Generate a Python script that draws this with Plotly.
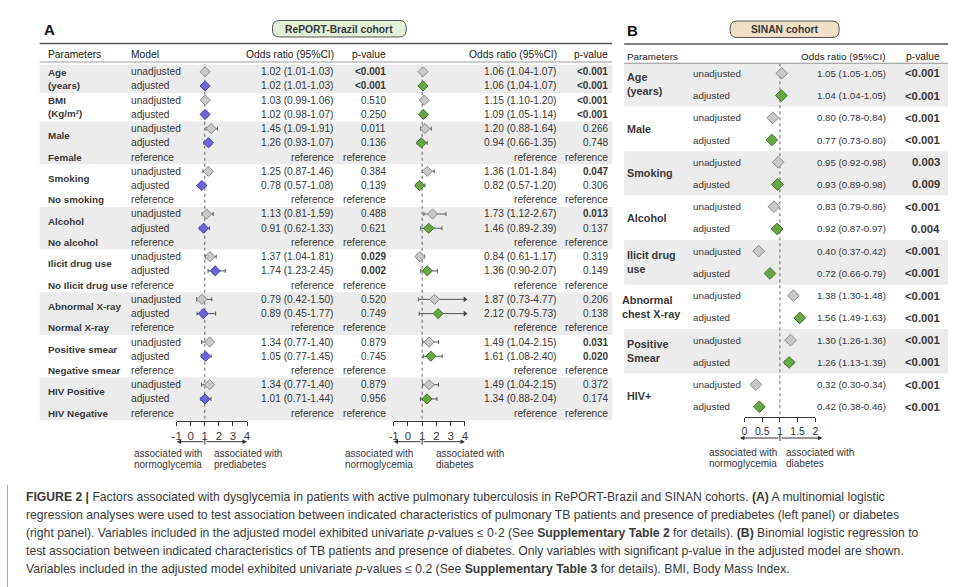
import plotly.graph_objects as go

W, H = 960, 587
def X(px): return px / W
def Y(py): return 1 - py / H

# ---------------- data ----------------
params_A = ["Age<br>(years)", "BMI<br>(Kg/m²)", "Male", "Smoking", "Alcohol",
            "Ilicit drug use", "Abnormal X-ray", "Positive smear", "HIV Positive"]
refs_A = ["", "", "Female", "No smoking", "No alcohol", "No Ilicit drug use",
          "Normal X-ray", "Negative smear", "HIV Negative"]

# RePORT-Brazil, prediabetes (left)
pre_or_u = [1.02, 1.03, 1.45, 1.25, 1.13, 1.37, 0.79, 1.34, 1.34]
pre_lo_u = [1.01, 0.99, 1.09, 0.87, 0.81, 1.04, 0.42, 0.77, 0.77]
pre_hi_u = [1.03, 1.06, 1.91, 1.46, 1.59, 1.81, 1.50, 1.40, 1.40]
pre_p_u = ["<0.001", "0.510", "0.011", "0.384", "0.488", "0.029", "0.520", "0.879", "0.879"]
pre_b_u = [1, 0, 0, 0, 0, 1, 0, 0, 0]
pre_or_a = [1.02, 1.02, 1.26, 0.78, 0.91, 1.74, 0.89, 1.05, 1.01]
pre_lo_a = [1.01, 0.98, 0.93, 0.57, 0.62, 1.23, 0.45, 0.77, 0.71]
pre_hi_a = [1.03, 1.07, 1.07, 1.08, 1.33, 2.45, 1.77, 1.45, 1.44]
pre_p_a = ["<0.001", "0.250", "0.136", "0.139", "0.621", "0.002", "0.749", "0.745", "0.956"]
pre_b_a = [1, 0, 0, 0, 0, 1, 0, 0, 0]

# RePORT-Brazil, diabetes (right)
dia_or_u = [1.06, 1.15, 1.20, 1.36, 1.73, 0.84, 1.87, 1.49, 1.49]
dia_lo_u = [1.04, 1.10, 0.88, 1.01, 1.12, 0.61, 0.73, 1.04, 1.04]
dia_hi_u = [1.07, 1.20, 1.64, 1.84, 2.67, 1.17, 4.77, 2.15, 2.15]
dia_p_u = ["<0.001", "<0.001", "0.266", "0.047", "0.013", "0.319", "0.206", "0.031", "0.372"]
dia_b_u = [1, 1, 0, 1, 1, 0, 0, 1, 0]
dia_or_a = [1.06, 1.09, 0.94, 0.82, 1.46, 1.36, 2.12, 1.61, 1.34]
dia_lo_a = [1.04, 1.05, 0.66, 0.57, 0.89, 0.90, 0.79, 1.08, 0.88]
dia_hi_a = [1.07, 1.14, 1.35, 1.20, 2.39, 2.07, 5.73, 2.40, 2.04]
dia_p_a = ["<0.001", "<0.001", "0.748", "0.306", "0.137", "0.149", "0.138", "0.020", "0.174"]
dia_b_a = [1, 1, 0, 0, 0, 0, 0, 1, 0]

# SINAN cohort, diabetes
params_B = ["Age<br>(years)", "Male", "Smoking", "Alcohol", "Ilicit drug<br>use",
            "Abnormal<br>chest X-ray", "Positive<br>Smear", "HIV+"]
sin_or_u = [1.05, 0.80, 0.95, 0.83, 0.40, 1.38, 1.30, 0.32]
sin_lo_u = [1.05, 0.78, 0.92, 0.79, 0.37, 1.30, 1.26, 0.30]
sin_hi_u = [1.05, 0.84, 0.98, 0.86, 0.42, 1.48, 1.36, 0.34]
sin_p_u = ["<0.001", "<0.001", "0.003", "<0.001", "<0.001", "<0.001", "<0.001", "<0.001"]
sin_or_a = [1.04, 0.77, 0.93, 0.92, 0.72, 1.56, 1.26, 0.42]
sin_lo_a = [1.04, 0.73, 0.89, 0.87, 0.66, 1.49, 1.13, 0.38]
sin_hi_a = [1.05, 0.80, 0.98, 0.97, 0.79, 1.63, 1.39, 0.46]
sin_p_a = ["<0.001", "<0.001", "0.009", "0.004", "<0.001", "<0.001", "<0.001", "<0.001"]

ticks_A = [-1, 0, 1, 2, 3, 4]
ticklabels_A = ["-1", "0", "1", "2", "3", "4"]
ticks_B = [0, 0.5, 1, 1.5, 2]
ticklabels_B = ["0", "0.5", "1", "1.5", "2"]

# ---------------- style ----------------
FONT = "Liberation Sans, Arial, sans-serif"
TXT = "#383838"
BAND = "#ececec"
GRAY_FILL, GRAY_LINE = "#c9c9c9", "#8c8c8c"
BLUE_FILL, BLUE_LINE = "#6b63d6", "#4c44b3"
GREEN_FILL, GREEN_LINE = "#68a544", "#3f7a28"

fig = go.Figure()
ann = []
shapes = []

def text(x, y, s, xanchor="left", size=10.2, yref="paper", xref="paper",
         color=TXT, yanchor="middle", align="left"):
    ann.append(dict(x=x, y=y, xref=xref, yref=yref, text=s, showarrow=False,
                    xanchor=xanchor, yanchor=yanchor, align=align, borderpad=0,
                    font=dict(family=FONT, size=size, color=color)))

def fmt(o, l, h):
    return f"{o:.2f} ({l:.2f}-{h:.2f})"

def pv(p, b):
    return f"<b>{p}</b>" if b else p

# ---------------- panel A layout of rows ----------------
starts_A = []
r = 0
for ref in refs_A:
    starts_A.append(r)
    r += 3 if ref else 2
nrows_A = r

for g, s0 in enumerate(starts_A):
    n = 3 if refs_A[g] else 2
    if g % 2 == 0:
        shapes.append(dict(type="rect", xref="paper", yref="y", x0=X(35), x1=X(613),
                           y0=s0 - 0.5, y1=s0 + n - 0.5, fillcolor=BAND,
                           line=dict(width=0), layer="below"))

text(X(38), Y(29), "<b>A</b>", size=15, color="#111")
shapes.append(dict(type="line", xref="paper", yref="paper", x0=X(35), x1=X(613),
                   y0=Y(43.5), y1=Y(43.5), line=dict(color="#555", width=1.5)))
shapes.append(dict(type="line", xref="paper", yref="paper", x0=X(35), x1=X(613),
                   y0=Y(62), y1=Y(62), line=dict(color="#9a9a9a", width=1)))
hy = Y(54.5)
text(X(42.5), hy, "Parameters", color="#222", size=10.3)
text(X(126.5), hy, "Model", color="#222", size=10.3)
text(X(333.5), hy, "Odds ratio (95%CI)", xanchor="right", color="#222", size=10.3)
text(X(385.5), hy, "p-value", xanchor="right", color="#222", size=10.3)
text(X(558.5), hy, "Odds ratio (95%CI)", xanchor="right", color="#222", size=10.3)
text(X(609.5), hy, "p-value", xanchor="right", color="#222", size=10.3)

PSZ = 9.8
for g, s0 in enumerate(starts_A):
    text(X(42.5), s0 + 0.5, "<b>" + params_A[g] + "</b>", yref="y", size=PSZ)
    text(X(126.5), s0, "unadjusted", yref="y")
    text(X(126.5), s0 + 1, "adjusted", yref="y")
    text(X(333.5), s0, fmt(pre_or_u[g], pre_lo_u[g], pre_hi_u[g]), "right", yref="y")
    text(X(333.5), s0 + 1, fmt(pre_or_a[g], pre_lo_a[g], pre_hi_a[g]), "right", yref="y")
    text(X(385.5), s0, pv(pre_p_u[g], pre_b_u[g]), "right", yref="y", size=10)
    text(X(385.5), s0 + 1, pv(pre_p_a[g], pre_b_a[g]), "right", yref="y", size=10)
    text(X(558.5), s0, fmt(dia_or_u[g], dia_lo_u[g], dia_hi_u[g]), "right", yref="y")
    text(X(558.5), s0 + 1, fmt(dia_or_a[g], dia_lo_a[g], dia_hi_a[g]), "right", yref="y")
    text(X(609.5), s0, pv(dia_p_u[g], dia_b_u[g]), "right", yref="y", size=10)
    text(X(609.5), s0 + 1, pv(dia_p_a[g], dia_b_a[g]), "right", yref="y", size=10)
    if refs_A[g]:
        text(X(42.5), s0 + 2, "<b>" + refs_A[g] + "</b>", yref="y", size=PSZ)
        text(X(126.5), s0 + 2, "reference", yref="y")
        for xx in (333.5, 385.5, 558.5, 609.5):
            text(X(xx), s0 + 2, "reference", "right", yref="y")

rows_u = [s for s in starts_A]
rows_a = [s + 1 for s in starts_A]

def forest(xaxis, yaxis, rows, o, lo, hi, fill, line, size, xmax):
    hi_c = [min(h, xmax) for h in hi]
    fig.add_trace(go.Scatter(
        x=o, y=rows, xaxis=xaxis, yaxis=yaxis, mode="markers",
        marker=dict(symbol="diamond", size=size, color=fill, line=dict(color=line, width=1)),
        error_x=dict(type="data", symmetric=False,
                     array=[max(0, h - v) for h, v in zip(hi_c, o)],
                     arrayminus=[max(0, v - l) for v, l in zip(o, lo)],
                     color="#555", thickness=1, width=2),
        showlegend=False, hoverinfo="skip", cliponaxis=False))
    clipped = [(xmax, rr) for h, rr in zip(hi, rows) if h > xmax]
    if clipped:
        fig.add_trace(go.Scatter(
            x=[c[0] for c in clipped], y=[c[1] for c in clipped], xaxis=xaxis, yaxis=yaxis,
            mode="markers", marker=dict(symbol="triangle-right", size=5, color="#444"),
            showlegend=False, hoverinfo="skip", cliponaxis=False))

forest("x", "y", rows_u, pre_or_u, pre_lo_u, pre_hi_u, GRAY_FILL, GRAY_LINE, 7.8, 4)
forest("x", "y", rows_a, pre_or_a, pre_lo_a, pre_hi_a, BLUE_FILL, BLUE_LINE, 7.8, 4)
forest("x2", "y2", rows_u, dia_or_u, dia_lo_u, dia_hi_u, GRAY_FILL, GRAY_LINE, 7.8, 4)
forest("x2", "y2", rows_a, dia_or_a, dia_lo_a, dia_hi_a, GREEN_FILL, GREEN_LINE, 7.8, 4)

for xr, yr in (("x", "y"), ("x2", "y2")):
    shapes.append(dict(type="line", xref=xr, yref=yr, x0=1, x1=1, y0=-0.7, y1=nrows_A - 0.4,
                       line=dict(color="#666", width=1, dash="3px,3px"), layer="below"))

# ---------------- panel B ----------------
for g in range(len(params_B)):
    if g % 2 == 0:
        shapes.append(dict(type="rect", xref="paper", yref="y3", x0=X(625), x1=X(952),
                           y0=2 * g - 0.5, y1=2 * g + 1.5, fillcolor=BAND,
                           line=dict(width=0), layer="below"))
text(X(627), Y(30), "<b>B</b>", size=15, color="#111")
shapes.append(dict(type="line", xref="paper", yref="paper", x0=X(625), x1=X(952),
                   y0=Y(44), y1=Y(44), line=dict(color="#555", width=1.5)))
shapes.append(dict(type="line", xref="paper", yref="paper", x0=X(625), x1=X(952),
                   y0=Y(63.3), y1=Y(63.3), line=dict(color="#9a9a9a", width=1)))
hyb = Y(56.5)
text(X(627), hyb, "Parameters", size=9.9, color="#222")
text(X(890), hyb, "Odds ratio (95%CI)", "right", size=9.9, color="#222")
text(X(945), hyb, "p-value", "right", size=10.3, color="#222")

rows_bu = [2 * g for g in range(len(params_B))]
rows_ba = [2 * g + 1 for g in range(len(params_B))]
for g in range(len(params_B)):
    lx = 621.5 if "chest" in params_B[g] else 627
    text(X(lx), 2 * g + 0.5, "<b>" + params_B[g] + "</b>", yref="y3", size=10.8)
    text(X(693), 2 * g, "unadjusted", yref="y3", size=9.8)
    text(X(693), 2 * g + 1, "adjusted", yref="y3", size=9.8)
    text(X(890), 2 * g, fmt(sin_or_u[g], sin_lo_u[g], sin_hi_u[g]), "right", yref="y3", size=9.7)
    text(X(890), 2 * g + 1, fmt(sin_or_a[g], sin_lo_a[g], sin_hi_a[g]), "right", yref="y3", size=9.7)
    text(X(945), 2 * g, "<b>" + sin_p_u[g] + "</b>", "right", yref="y3", size=11.3)
    text(X(945), 2 * g + 1, "<b>" + sin_p_a[g] + "</b>", "right", yref="y3", size=11.3)

forest("x3", "y3", rows_bu, sin_or_u, sin_lo_u, sin_hi_u, GRAY_FILL, GRAY_LINE, 9, 2)
forest("x3", "y3", rows_ba, sin_or_a, sin_lo_a, sin_hi_a, GREEN_FILL, GREEN_LINE, 9, 2)
shapes.append(dict(type="line", xref="x3", yref="y3", x0=1, x1=1, y0=-0.45, y1=15.55,
                   line=dict(color="#666", width=1, dash="3px,3px"), layer="below"))

# ---------------- cohort pills ----------------
def pill(x0, x1, y0, y1, fill, r=7):
    def P(px, py):
        return f"{X(px):.5f},{Y(py):.5f}"
    path = (f"M{P(x0 + r, y0)} L{P(x1 - r, y0)} Q{P(x1, y0)} {P(x1, y0 + r)} "
            f"L{P(x1, y1 - r)} Q{P(x1, y1)} {P(x1 - r, y1)} L{P(x0 + r, y1)} "
            f"Q{P(x0, y1)} {P(x0, y1 - r)} L{P(x0, y0 + r)} Q{P(x0, y0)} {P(x0 + r, y0)} Z")
    shapes.append(dict(type="path", xref="paper", yref="paper", path=path,
                       fillcolor=fill, line=dict(color="#555", width=1)))

pill(270, 405, 20.5, 37, "#e3efd8")
text(X(337.5), Y(29), "<b>RePORT-Brazil cohort</b>", "center", size=10.3)
pill(732, 842, 21, 37.5, "#f0e1c6")
text(X(787), Y(29.5), "<b>SINAN cohort</b>", "center", size=10.3)

# ---------------- direction arrows ----------------
def arrow(xref, head, tail, py):
    ann.append(dict(xref=xref, yref="paper", x=head, y=Y(py), axref=xref, ax=tail,
                    ayref="pixel", ay=0, showarrow=True, arrowhead=2, arrowsize=0.9,
                    arrowwidth=1, arrowcolor="#333", text=""))

arrow("x", -1, 1, 441.7); arrow("x", 4, 1, 441.7)
arrow("x2", -1, 1, 441.7); arrow("x2", 4, 1, 441.7)
arrow("x3", -0.13, 1, 438); arrow("x3", 2.2, 1, 438)
for xr, py in (("x", 441.7), ("x2", 441.7), ("x3", 438)):
    shapes.append(dict(type="line", xref=xr, yref="paper", x0=1, x1=1,
                       y0=Y(py - 3), y1=Y(py + 3), line=dict(color="#333", width=1)))

for lx, l1, l2, y1 in ((129.5, "associated with", "normoglycemia", 453.3),
                       (209.5, "associated with", "prediabetes", 453.3),
                       (342.5, "associated with", "normoglycemia", 453.3),
                       (434, "associated with", "diabetes", 453.3),
                       (709.5, "associated with", "normoglycemia", 452.5),
                       (787, "associated with", "diabetes", 452.5)):
    text(X(lx), Y(y1), l1, size=10)
    text(X(lx), Y(y1 + 11), l2, size=10)

# ---------------- caption ----------------
CAP = "Liberation Sans, Arial, sans-serif"
cap_lines = [
    "<b>FIGURE 2 |</b> Factors associated with dysglycemia in patients with active pulmonary tuberculosis in RePORT-Brazil and SINAN cohorts. <b>(A)</b> A multinomial logistic",
    "regression analyses were used to test association between indicated characteristics of pulmonary TB patients and presence of prediabetes (left panel) or diabetes",
    "(right panel). Variables included in the adjusted model exhibited univariate <i>p</i>-values ≤ 0·2 (See <b>Supplementary Table 2</b> for details). <b>(B)</b> Binomial logistic regression to",
    "test association between indicated characteristics of TB patients and presence of diabetes. Only variables with significant p-value in the adjusted model are shown.",
    "Variables included in the adjusted model exhibited univariate <i>p</i>-values ≤ 0.2 (See <b>Supplementary Table 3</b> for details). BMI, Body Mass Index.",
]
for i, line in enumerate(cap_lines):
    ann.append(dict(x=X(20.5), y=Y(497.3 + 17.8 * i), xref="paper", yref="paper",
                    text=line, showarrow=False, xanchor="left", yanchor="middle", borderpad=0,
                    font=dict(family=CAP, size=12.2, color="#3a3a3a")))
shapes.append(dict(type="line", xref="paper", yref="paper", x0=X(2.5), x1=X(2.5),
                   y0=Y(485), y1=0, line=dict(color="#aaaaaa", width=1)))

# ---------------- axes ----------------
ax_common = dict(showline=True, linecolor="#333", linewidth=1, ticks="outside",
                 ticklen=4, tickcolor="#333", tickwidth=1, showgrid=False, zeroline=False,
                 fixedrange=True)
y_common = dict(visible=False, fixedrange=True, showgrid=False, zeroline=False)

fig.update_layout(
    width=W, height=H, margin=dict(l=0, r=0, t=0, b=0),
    paper_bgcolor="white", plot_bgcolor="rgba(0,0,0,0)",
    xaxis=dict(domain=[X(173.3), X(244.3)], range=[-1, 4], tickvals=ticks_A, ticktext=ticklabels_A,
               anchor="y", tickfont=dict(family=FONT, size=11.5, color=TXT), **ax_common),
    yaxis=dict(domain=[Y(421), Y(64.6)], range=[nrows_A - 0.45, -0.5], anchor="x", **y_common),
    xaxis2=dict(domain=[X(392.3), X(464.3)], range=[-1, 4], tickvals=ticks_A, ticktext=ticklabels_A,
                anchor="y2", tickfont=dict(family=FONT, size=11.5, color=TXT), **ax_common),
    yaxis2=dict(domain=[Y(421), Y(64.6)], range=[nrows_A - 0.45, -0.5], anchor="x2", **y_common),
    xaxis3=dict(domain=[X(746.5), X(818)], range=[0, 2], tickvals=ticks_B, ticktext=ticklabels_B,
                anchor="y3", tickfont=dict(family=FONT, size=10.5, color=TXT), **ax_common),
    yaxis3=dict(domain=[Y(417.3), Y(62.2)], range=[15.47, -0.5], anchor="x3", **y_common),
    annotations=ann, shapes=shapes, showlegend=False,
)

fig.write_html("out.html")
